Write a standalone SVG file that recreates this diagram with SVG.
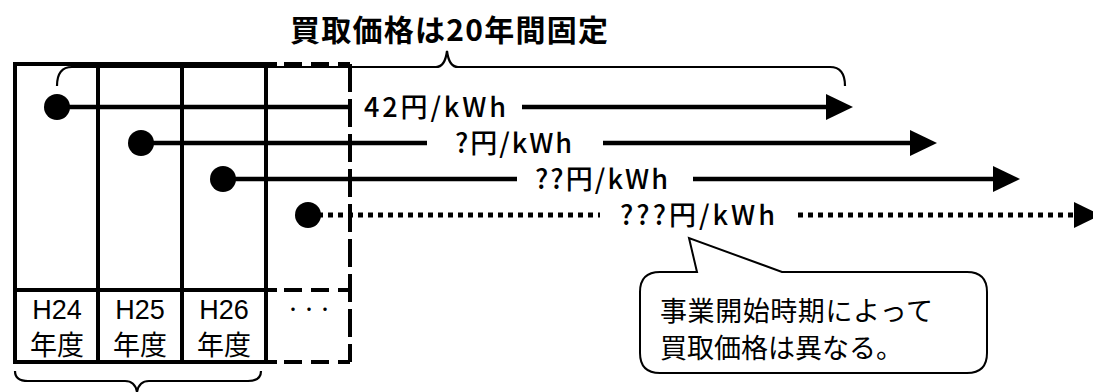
<svg xmlns="http://www.w3.org/2000/svg" width="1093" height="392" viewBox="0 0 1093 392">
<style>
.bg{fill:#fff}
.grid{fill:none;stroke:#000;stroke-width:4}
.dh{fill:none;stroke:#000;stroke-width:4;stroke-dasharray:18 9}
.dv{fill:none;stroke:#000;stroke-width:4;stroke-dasharray:28 7}
.brace{fill:none;stroke:#000;stroke-width:2.2}
.conn{fill:none;stroke:#000;stroke-width:4.5}
.dotted{fill:none;stroke:#000;stroke-width:5;stroke-dasharray:5 5}
.dot{fill:#000}
.title{font-family:"Noto Sans CJK JP","Liberation Sans",sans-serif;font-size:30px;font-weight:bold;fill:#000}
.lbl{font-family:"Noto Sans CJK JP","Liberation Sans",sans-serif;font-size:27px;font-weight:500;fill:#000}
.yr{font-family:"Liberation Sans","Noto Sans CJK JP",sans-serif;font-size:27px;fill:#000;text-anchor:middle}
.yrj{font-family:"Noto Sans CJK JP",sans-serif;font-size:27px;fill:#000;text-anchor:middle}
.call{fill:#fff;stroke:#000;stroke-width:2}
.ct{font-family:"Noto Sans CJK JP",sans-serif;font-size:27px;fill:#000}
</style>
<defs>
<marker id="ah" markerUnits="userSpaceOnUse" viewBox="0 0 27 26" markerWidth="27" markerHeight="26" refX="2" refY="13" orient="auto">
<path d="M0,0 L27,13 L0,26 Z" fill="#000"/>
</marker>
</defs>
<rect class="bg" x="0" y="0" width="1093" height="392"/>

<g id="title">
<text class="title" x="290" y="41" textLength="318" lengthAdjust="spacing">買取価格は20年間固定</text>
</g>

<g id="grid">
<rect class="grid" x="15" y="64" width="251" height="298"/>
<line class="grid" x1="98" y1="64" x2="98" y2="362"/>
<line class="grid" x1="182" y1="64" x2="182" y2="362"/>
<line class="grid" x1="15" y1="290" x2="266" y2="290"/>
<line class="grid" x1="266" y1="64" x2="277" y2="64"/>
<line class="grid" x1="266" y1="362" x2="277" y2="362"/>
<line class="grid" x1="266" y1="290" x2="277" y2="290"/>
<line class="dh" x1="284" y1="64" x2="350" y2="64"/>
<line class="dh" x1="284" y1="290" x2="350" y2="290"/>
<line class="dh" x1="284" y1="362" x2="350" y2="362"/>
<line class="dv" x1="350" y1="64" x2="350" y2="362"/>
</g>

<g id="years">
<text class="yr" x="57" y="319">H24</text>
<text class="yrj" x="57" y="355">年度</text>
<text class="yr" x="140" y="319">H25</text>
<text class="yrj" x="140" y="355">年度</text>
<text class="yr" x="224" y="319">H26</text>
<text class="yrj" x="224" y="355">年度</text>
<text class="yrj" x="309" y="315" style="font-size:16px">・・・</text>
</g>

<g id="braces">
<path class="brace" d="M57,86 Q57,67 72,67 L436,67 Q445,67 447,51 Q449,67 458,67 L830,67 Q845,67 845,86"/>
<path class="brace" d="M15,371 Q15,381 28,381 L125,381 Q135,381 137,392 Q139,381 149,381 L248,381 Q261,381 261,371"/>
</g>

<g id="connectors">
<circle class="dot" cx="57" cy="107" r="13"/>
<line class="conn" x1="57" y1="107" x2="350" y2="107"/>
<line class="conn" x1="522" y1="107" x2="828" y2="107" marker-end="url(#ah)"/>
<circle class="dot" cx="141" cy="143" r="13"/>
<line class="conn" x1="141" y1="143" x2="427" y2="143"/>
<line class="conn" x1="603" y1="143" x2="912" y2="143" marker-end="url(#ah)"/>
<circle class="dot" cx="223" cy="179" r="13"/>
<line class="conn" x1="223" y1="179" x2="517" y2="179"/>
<line class="conn" x1="693" y1="179" x2="995" y2="179" marker-end="url(#ah)"/>
<circle class="dot" cx="308" cy="215" r="13"/>
<line class="dotted" x1="318" y1="215" x2="600" y2="215"/>
<line class="dotted" x1="798" y1="215" x2="1076" y2="215" marker-end="url(#ah)"/>
</g>

<g id="labels">
<text class="lbl" x="364" y="117" textLength="142" lengthAdjust="spacing">42円/kWh</text>
<text class="lbl" x="455" y="153" textLength="117" lengthAdjust="spacing">?円/kWh</text>
<text class="lbl" x="535" y="189" textLength="133" lengthAdjust="spacing">??円/kWh</text>
<text class="lbl" x="620" y="225" textLength="155" lengthAdjust="spacing">???円/kWh</text>
</g>

<g id="callout">
<path class="call" d="M660,272 L697,272 L689,238 L782,272 L967,272 Q987,272 987,292 L987,353 Q987,373 967,373 L660,373 Q640,373 640,353 L640,292 Q640,272 660,272 Z"/>
<text class="ct" x="660" y="321" textLength="273" lengthAdjust="spacing">事業開始時期によって</text>
<text class="ct" x="660" y="358">買取価格は異なる。</text>
</g>
</svg>
